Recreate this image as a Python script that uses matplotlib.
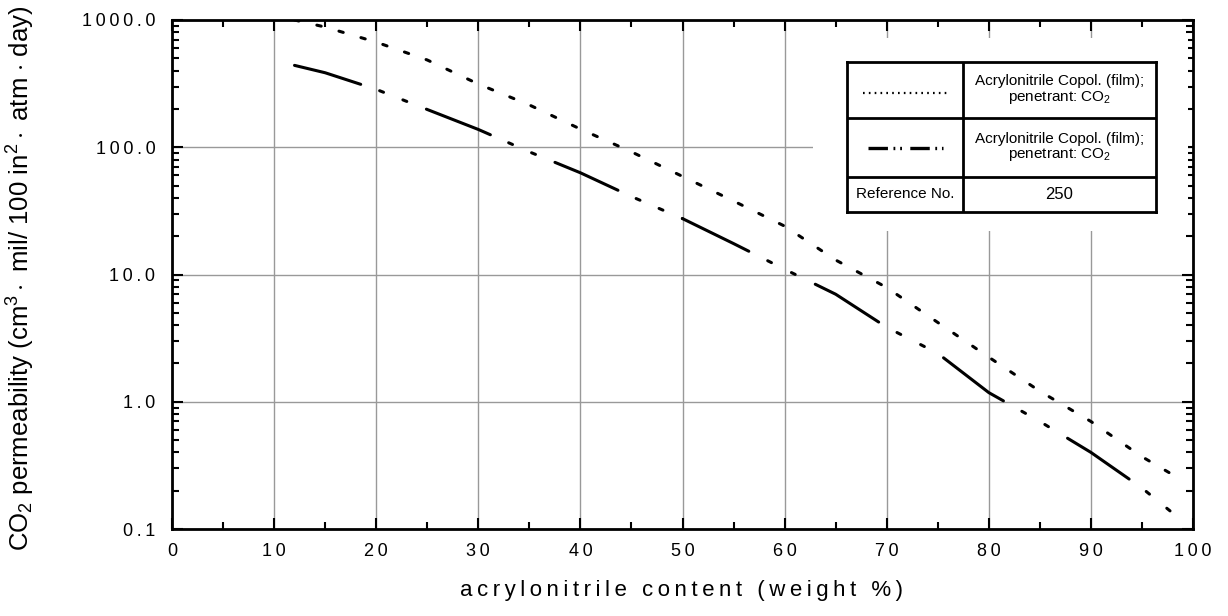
import matplotlib
matplotlib.use("Agg")
import matplotlib.pyplot as plt
from matplotlib import font_manager
from matplotlib.ticker import FuncFormatter, MultipleLocator, NullFormatter, LogLocator
from matplotlib.patches import Rectangle
from matplotlib.lines import Line2D

# data
x_dotted = [12, 15, 20, 25, 30, 35, 40, 45, 50, 55, 60, 65, 70, 75, 80, 85, 90, 95, 99]
y_dotted = [1000, 880, 670, 485, 314, 215, 139, 92, 59, 37.8, 24, 13.0, 7.9, 4.2, 2.24, 1.21, 0.70, 0.37, 0.24]

x_dashdot = [12, 15, 20, 25, 30, 35, 40, 45, 50, 55, 60, 65, 70, 75, 80, 85, 90, 95, 99]
y_dashdot = [440, 385, 285, 198, 138, 92, 63, 41, 27.5, 17.5, 11, 7.0, 3.85, 2.4, 1.18, 0.70, 0.40, 0.21, 0.115]

legend_text = "Acrylonitrile Copol. (film);\npenetrant: CO$_2$"
ref_no = "250"

plt.rcParams['font.family'] = ['Liberation Sans', 'DejaVu Sans']
plt.rcParams['mathtext.fontset'] = 'custom'
plt.rcParams['mathtext.rm'] = 'Liberation Sans'
plt.rcParams['mathtext.it'] = 'Liberation Sans'
plt.rcParams['lines.scale_dashes'] = False

names = {f.name for f in font_manager.fontManager.ttflist}
if 'Liberation Sans Narrow' in names:
    narrow, nsize = 'Liberation Sans Narrow', 13
else:
    narrow, nsize = 'Liberation Sans', 11

fig = plt.figure(figsize=(12.28, 6.16), dpi=100)
ax = fig.add_axes([172 / 1228, 1 - 529 / 616, (1193 - 172) / 1228, (529 - 20) / 616])

ax.plot(x_dotted, y_dotted, color='black', lw=2.2, dashes=(3.2, 13.3),
        dash_capstyle='round', zorder=3)
# dash-dot curve drawn in two parts so the pattern keeps in step as the curve steepens
k = x_dashdot.index(50)
ax.plot(x_dashdot[:k + 1], y_dashdot[:k + 1], color='black', lw=2.2,
        dashes=(49.6, 14.4, 3, 15, 3, 15.2), dash_capstyle='round', zorder=3)
ax.plot(x_dashdot[k:], y_dashdot[k:], color='black', lw=2.2,
        dashes=(53.2, 15.25, 3, 16.1, 3, 16.1), dash_capstyle='round', zorder=3)

ax.set_yscale('log')
ax.set_xlim(0, 100)
ax.set_ylim(0.1, 1000)
ax.xaxis.set_major_locator(MultipleLocator(10))
ax.xaxis.set_minor_locator(MultipleLocator(5))
ax.yaxis.set_major_locator(LogLocator(base=10, numticks=10))
ax.yaxis.set_minor_locator(LogLocator(base=10, subs=range(2, 10), numticks=20))
ax.yaxis.set_minor_formatter(NullFormatter())

thin = '\u2009'
ax.xaxis.set_major_formatter(FuncFormatter(lambda v, p: thin.join(str(int(round(v))))))
ax.yaxis.set_major_formatter(FuncFormatter(lambda v, p: thin.join(f'{v:.1f}')))

ax.tick_params(which='both', direction='in', top=True, right=True, width=1.5, labelsize=13)
ax.tick_params(which='major', length=8)
ax.tick_params(which='minor', length=5)
ax.tick_params(axis='y', pad=12)
ax.tick_params(axis='x', pad=10)

for s in ax.spines.values():
    s.set_linewidth(2)

ax.grid(True, which='major', color='#999999', lw=1)

# white area behind the legend table
ax.add_patch(Rectangle((813 / 1228, 1 - 231 / 616), (1188 - 813) / 1228, (231 - 38) / 616,
                       transform=fig.transFigure, facecolor='white', edgecolor='none',
                       zorder=1.8))

xlabel = "acrylonitrile content (weight %)"
fig.text(682 / 1228, 1 - 596 / 616, thin.join(xlabel), ha='center', va='baseline', fontsize=16)
fig.text(21 / 1228, 1 - 278 / 616,
         r"CO$_2$ permeability (cm$^3\cdot$ mil/ 100 in$^2\cdot$ atm $\cdot$ day)",
         rotation=90, ha='center', va='center', fontsize=18.5)

# legend table
lax = fig.add_axes([847 / 1228, 1 - 212 / 616, (1156 - 847) / 1228, (212 - 62) / 616], zorder=5)
lax.set_xlim(0, 1)
lax.set_ylim(0, 1)
lax.set_xticks([])
lax.set_yticks([])
for s in lax.spines.values():
    s.set_linewidth(2)
col = (963 - 847) / 309
r1 = 1 - (118 - 62) / 150
r2 = 1 - (177 - 62) / 150
lax.plot([col, col], [0, 1], color='black', lw=2)
lax.plot([0, 1], [r1, r1], color='black', lw=2)
lax.plot([0, 1], [r2, r2], color='black', lw=2)

lax.add_line(Line2D([0.052, 0.324], [0.793, 0.793], color='black', lw=1.6, dashes=(1.2, 3.0)))
lax.add_line(Line2D([0.068, 0.310], [0.427, 0.427], color='black', lw=2.4,
                    dashes=(14, 4, 1.3, 3.5, 1.3, 6)))

cx = (col + 1) / 2
lax.text(cx, (1 + r1) / 2, legend_text, ha='center', va='center', family=narrow,
         fontsize=nsize, linespacing=1.0)
lax.text(cx, (r1 + r2) / 2, legend_text, ha='center', va='center', family=narrow,
         fontsize=nsize, linespacing=1.0)
lax.text(col / 2, r2 / 2, "Reference No.", ha='center', va='center', family=narrow,
         fontsize=nsize)
lax.text(cx, r2 / 2, ref_no, ha='center', va='center', family=narrow, fontsize=nsize + 1)

fig.savefig("out.png", dpi=100)
